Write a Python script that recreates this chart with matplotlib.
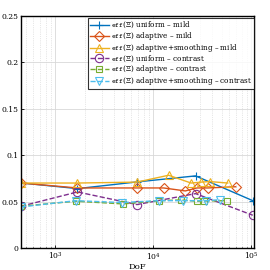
import matplotlib
matplotlib.use("Agg")
import matplotlib.pyplot as plt
import numpy as np

plt.rcParams['font.family'] = ['DejaVu Serif']
plt.rcParams['mathtext.fontset'] = 'cm'

# data
uni_mild_x = [449, 1692, 6840, 27100, 104000]
uni_mild_y = [0.0701, 0.0640, 0.0712, 0.0777, 0.0510]
ad_mild_x = [449, 1692, 6840, 12800, 21300, 28000, 36000, 69700]
ad_mild_y = [0.0700, 0.0647, 0.0647, 0.0647, 0.0615, 0.0647, 0.0647, 0.0660]
ads_mild_x = [449, 1692, 6840, 14400, 24400, 31000, 37800, 57700]
ads_mild_y = [0.0700, 0.0700, 0.0710, 0.0784, 0.0700, 0.0710, 0.0716, 0.0700]
uni_con_x = [449, 1692, 6840, 27100, 104000]
uni_con_y = [0.0450, 0.0604, 0.0468, 0.0586, 0.0353]
ad_con_x = [449, 1620, 4920, 11600, 19200, 28000, 33300, 56400]
ad_con_y = [0.0450, 0.0504, 0.0475, 0.0510, 0.0518, 0.0504, 0.0507, 0.0510]
ads_con_x = [449, 1620, 4800, 11600, 20200, 34600, 47800]
ads_con_y = [0.0442, 0.0510, 0.0490, 0.0510, 0.0510, 0.0510, 0.0520]

labels = [r"$\mathtt{eff}$(Ξ) uniform – mild",
          r"$\mathtt{eff}$(Ξ) adaptive – mild",
          r"$\mathtt{eff}$(Ξ) adaptive+smoothing – mild",
          r"$\mathtt{eff}$(Ξ) uniform – contrast",
          r"$\mathtt{eff}$(Ξ) adaptive – contrast",
          r"$\mathtt{eff}$(Ξ) adaptive+smoothing – contrast"]

colors = ['#0072BD', '#D95319', '#EDB120', '#7E2F8E', '#77AC30', '#4DBEEE']

fig = plt.figure(figsize=(2.7, 2.7), dpi=100)
ax = fig.add_axes([21/270, 22/270, 233/270, 232/270])

series = [(uni_mild_x, uni_mild_y, '+', '-'),
          (ad_mild_x, ad_mild_y, 'D', '-'),
          (ads_mild_x, ads_mild_y, '^', '-'),
          (uni_con_x, uni_con_y, 'o', '--'),
          (ad_con_x, ad_con_y, 's', '--'),
          (ads_con_x, ads_con_y, 'v', '--')]
for (x, y, m, ls), c, lab in zip(series, colors, labels):
    ms = 6 if m != 'D' else 5
    if m == 's':
        ms = 5
    ax.plot(x, y, ls, color=c, marker=m, mfc='none', ms=ms, lw=1.0,
            mew=0.8, label=lab)

ax.set_xscale('log')
ax.set_xlim(449, 107000)
ax.set_ylim(0, 0.25)
ax.set_yticks([0, 0.05, 0.1, 0.15, 0.2, 0.25])
ax.set_yticklabels(['0', '0.05', '0.1', '0.15', '0.2', '0.25'])
ax.grid(True, which='major', color='#d8d8d8', lw=0.6)
ax.grid(True, which='minor', axis='x', color='#d0d0d0', lw=0.5, ls=':')
ax.tick_params(labelsize=5.5, width=0.6, length=2, direction='in', pad=2)
ax.tick_params(which='minor', direction='in', length=1)
for s in ax.spines.values():
    s.set_linewidth(1.0)
ax.set_xlabel('DoF', fontsize=6, labelpad=1)

leg = ax.legend(loc='upper right', bbox_to_anchor=(1.0, 0.99), fontsize=5.25,
                frameon=True, fancybox=False, edgecolor='black',
                handlelength=2.6, handletextpad=0.3, labelspacing=-0.05,
                borderpad=0.25, borderaxespad=0.0, handleheight=0.3)
leg.get_frame().set_linewidth(0.8)

fig.savefig('out.png', dpi=100)
